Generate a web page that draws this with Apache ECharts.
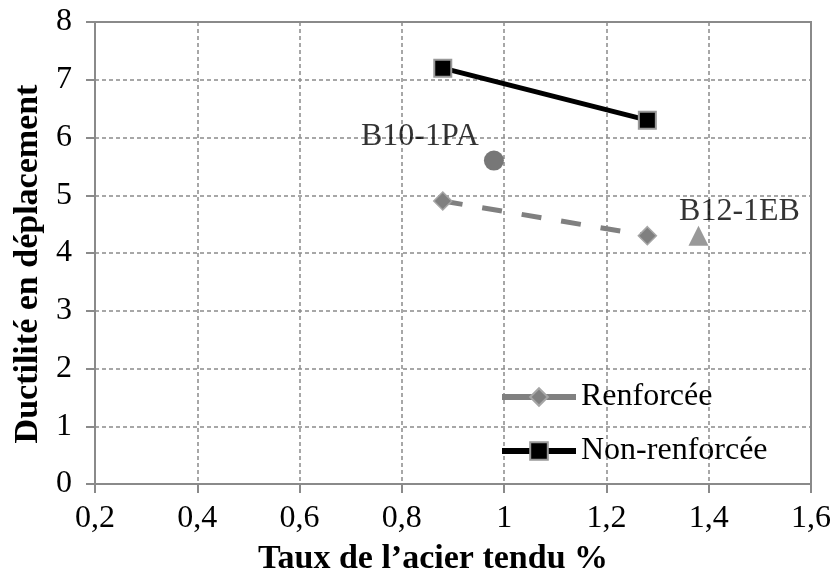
<!DOCTYPE html>
<html>
<head>
<meta charset="utf-8">
<script src="https://cdn.jsdelivr.net/npm/echarts@6/dist/echarts.min.js"></script>
<style>
  html, body { margin: 0; padding: 0; background: #fff; }
  #chart { width: 834px; height: 580px; }
</style>
</head>
<body>
<div id="chart"></div>
<script>
// Ductility vs. tension steel ratio
const xTickValues = [0.2, 0.4, 0.6, 0.8, 1.0, 1.2, 1.4, 1.6];
const xTickLabels = ['0,2', '0,4', '0,6', '0,8', '1', '1,2', '1,4', '1,6'];

const renforceeX = [0.88, 1.28];
const renforceeY = [4.9, 4.3];

const nonRenforceeX = [0.88, 1.28];
const nonRenforceeY = [7.2, 6.3];

const b10Point = [0.98, 5.6];
const b12Point = [1.38, 4.3];

const seriesNames = ['Renforcée', 'Non-renforcée', 'B10-1PA', 'B12-1EB'];

const pair = (xs, ys) => xs.map((x, i) => [x, ys[i]]);

const FONT = '"Liberation Serif", "Times New Roman", serif';
const GRID_COLOR = '#8a8a8a';
const TEXT_SIZE = 32;
const TITLE_SIZE = 34;

function xLabel(v) {
  const i = xTickValues.findIndex(t => Math.abs(t - v) < 1e-6);
  return i >= 0 ? xTickLabels[i] : '';
}

const chart = echarts.init(document.getElementById('chart'));
chart.setOption({
  backgroundColor: '#fff',
  animation: false,
  textStyle: { fontFamily: FONT, color: '#000' },
  grid: {
    left: 95, right: 23, top: 22, bottom: 96,
    outerBoundsMode: 'none',
    show: true, borderColor: GRID_COLOR, borderWidth: 2
  },
  xAxis: {
    type: 'value', min: 0.2, max: 1.6, interval: 0.2,
    name: 'Taux de l\u2019acier tendu %',
    nameLocation: 'middle', nameGap: 58,
    nameTextStyle: { fontFamily: FONT, fontWeight: 'bold', fontSize: TITLE_SIZE, color: '#000', padding: [0, 40, 0, 0] },
    axisLine: { show: true, lineStyle: { color: GRID_COLOR, width: 2 } },
    axisTick: { show: true, length: 9, lineStyle: { color: GRID_COLOR, width: 2 } },
    axisLabel: { fontFamily: FONT, fontSize: TEXT_SIZE, color: '#000', margin: 19, formatter: xLabel, showMaxLabel: true },
    splitLine: { show: true, lineStyle: { color: GRID_COLOR, type: [4, 3], width: 1.5 } }
  },
  yAxis: {
    type: 'value', min: 0, max: 8, interval: 1,
    name: 'Ductilité en déplacement',
    nameLocation: 'middle', nameGap: 49,
    nameTextStyle: { fontFamily: FONT, fontWeight: 'bold', fontSize: TITLE_SIZE, color: '#000', padding: [0, 22, 0, 0] },
    axisLine: { show: true, lineStyle: { color: GRID_COLOR, width: 2 } },
    axisTick: { show: true, length: 9, lineStyle: { color: GRID_COLOR, width: 2 } },
    axisLabel: { fontFamily: FONT, fontSize: TEXT_SIZE, color: '#000', margin: 23 },
    splitLine: { show: true, lineStyle: { color: GRID_COLOR, type: [4, 3], width: 1.5 } }
  },
  legend: {
    orient: 'vertical',
    left: 494, top: 376,
    itemWidth: 74, itemHeight: 22, itemGap: 22,
    textStyle: { fontFamily: FONT, fontSize: TEXT_SIZE, color: '#000', padding: [0, 0, 0, 0] },
    data: [
      { name: seriesNames[0], lineStyle: { type: 'solid', width: 6 } },
      { name: seriesNames[1], lineStyle: { type: 'solid', width: 6 } }
    ]
  },
  series: [
    {
      name: seriesNames[0], type: 'line',
      data: pair(renforceeX, renforceeY),
      symbol: 'diamond', symbolSize: 18,
      lineStyle: { color: '#808080', width: 5, type: [20, 20] },
      itemStyle: { color: '#808080', borderColor: '#a6a6a6', borderWidth: 1.5 },
      z: 3
    },
    {
      name: seriesNames[1], type: 'line',
      data: pair(nonRenforceeX, nonRenforceeY),
      symbol: 'rect', symbolSize: 17,
      lineStyle: { color: '#000', width: 5 },
      itemStyle: { color: '#000', borderColor: '#999', borderWidth: 2 },
      z: 3
    },
    {
      name: seriesNames[2], type: 'scatter',
      data: [b10Point],
      symbol: 'circle', symbolSize: 20,
      itemStyle: { color: '#555' },
      label: {
        show: true, position: 'left', distance: 5, offset: [0, -24],
        formatter: seriesNames[2], fontFamily: FONT, fontSize: TEXT_SIZE, color: '#000'
      }
    },
    {
      name: seriesNames[3], type: 'scatter',
      data: [b12Point],
      symbol: 'triangle', symbolSize: 20,
      itemStyle: { color: '#808080' },
      label: {
        show: true, position: 'top', distance: -2, offset: [41, 0],
        formatter: seriesNames[3], fontFamily: FONT, fontSize: TEXT_SIZE, color: '#000'
      }
    }
  ]
});
</script>
</body>
</html>
